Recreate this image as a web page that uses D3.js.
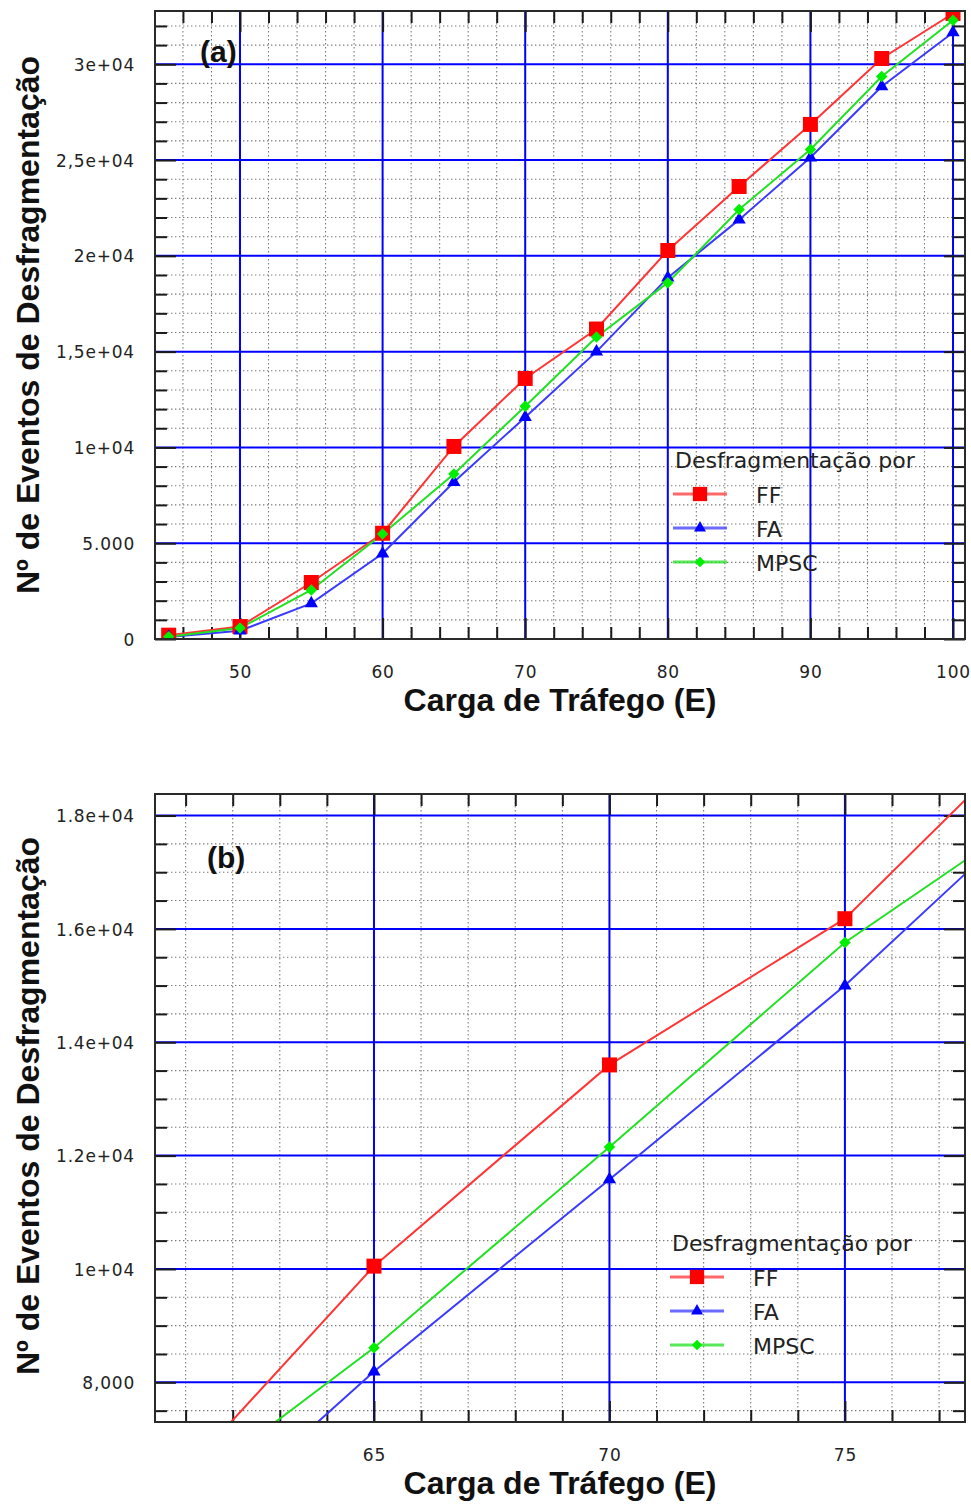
<!DOCTYPE html>
<html>
<head>
<meta charset="utf-8">
<script src="https://cdn.jsdelivr.net/npm/d3@7/dist/d3.min.js"></script>
<style>
  html, body { margin: 0; padding: 0; background: #ffffff; }
  svg { display: block; }
</style>
</head>
<body>
<svg id="chart" width="971" height="1504"></svg>
<script>
// Traffic load (Erlang) and defragmentation event counts per policy
const cargas = [45, 50, 55, 60, 65, 70, 75, 80, 85, 90, 95, 100];
const ffEventos   = [200, 650, 2950, 5520, 10050, 13600, 16180, 20280, 23620, 26860, 30300, 32650];
const faEventos   = [100, 430, 1860, 4460, 8190, 11580, 15000, 18860, 21890, 25130, 28840, 31660];
const mpscEventos = [120, 570, 2560, 5480, 8610, 12150, 15760, 18600, 22420, 25550, 29360, 32300];

const seriesNames = ["FF", "FA", "MPSC"];
const legendTitle = "Desfragmentação por";
const xTitle = "Carga de Tráfego (E)";
const yTitle = "Nº de Eventos de Desfragmentação";

// Tick values and their printed labels, panel (a)
const xTicksA = [50, 60, 70, 80, 90, 100];
const xTickLabelsA = ["50", "60", "70", "80", "90", "100"];
const yTicksA = [0, 5000, 10000, 15000, 20000, 25000, 30000];
const yTickLabelsA = ["0", "5.000", "1e+04", "1,5e+04", "2e+04", "2,5e+04", "3e+04"];

// Tick values and their printed labels, panel (b)
const xTicksB = [65, 70, 75];
const xTickLabelsB = ["65", "70", "75"];
const yTicksB = [8000, 10000, 12000, 14000, 16000, 18000];
const yTickLabelsB = ["8,000", "1e+04", "1.2e+04", "1.4e+04", "1.6e+04", "1.8e+04"];

const series = [
  { name: seriesNames[0], values: ffEventos,   line: "#ff3535", fill: "#ff0000", shape: "square" },
  { name: seriesNames[1], values: faEventos,   line: "#3a3aff", fill: "#0000ff", shape: "triangle" },
  { name: seriesNames[2], values: mpscEventos, line: "#22e022", fill: "#00ee00", shape: "diamond" }
];

const svg = d3.select("#chart");

function markerPath(shape, scale) {
  if (shape === "square") return d3.symbol(d3.symbolSquare, 225 * scale * scale)();
  if (shape === "triangle") return d3.symbol(d3.symbolTriangle, 76 * scale * scale)();
  return d3.symbol(d3.symbolSquare, 66 * scale * scale)();
}

function drawPanel(cfg) {
  const { left, top, right, bottom } = cfg.box;
  const x = d3.scaleLinear().domain(cfg.xDomain).range([left, right]);
  const y = d3.scaleLinear().domain(cfg.yDomain).range([bottom, top]);
  const g = svg.append("g");

  const clipId = "clip-" + cfg.id;
  g.append("clipPath").attr("id", clipId)
    .append("rect").attr("x", left).attr("y", top)
    .attr("width", right - left).attr("height", bottom - top);

  const xMinor = d3.range(cfg.xMinorStart, cfg.xDomain[1], cfg.xMinorStep)
    .filter(v => !cfg.xTicks.some(t => Math.abs(t - v) < 1e-9));
  const yMinor = d3.range(cfg.yMinorStart, cfg.yDomain[1], cfg.yMinorStep)
    .filter(v => !cfg.yTicks.some(t => Math.abs(t - v) < 1e-9));

  // dotted minor grid
  const minor = g.append("g").attr("stroke", "#7a7a7a").attr("stroke-width", 1.1)
    .attr("stroke-dasharray", "1.4,2.6");
  minor.selectAll(".vx").data(xMinor).join("line")
    .attr("x1", d => x(d)).attr("x2", d => x(d)).attr("y1", top).attr("y2", bottom);
  minor.selectAll(".hy").data(yMinor).join("line")
    .attr("x1", left).attr("x2", right).attr("y1", d => y(d)).attr("y2", d => y(d));

  // solid blue major grid
  const major = g.append("g").attr("stroke", "#0000ff").attr("stroke-width", 2);
  major.selectAll(".vx").data(cfg.xTicks).join("line")
    .attr("x1", d => x(d)).attr("x2", d => x(d)).attr("y1", top).attr("y2", bottom);
  major.selectAll(".hy").data(cfg.yTicks.filter(v => y(v) > top + 1 && y(v) < bottom - 1)).join("line")
    .attr("x1", left).attr("x2", right).attr("y1", d => y(d)).attr("y2", d => y(d));

  // inward tick marks on all four sides
  const tickG = g.append("g");
  function ticks(axisFn, scale, values, size, transform) {
    const a = tickG.append("g").attr("transform", transform)
      .call(axisFn(scale).tickValues(values).tickSize(-size).tickFormat(""));
    a.select(".domain").remove();
    a.selectAll(".tick line").attr("stroke", "#1a1a1a").attr("stroke-width", 2);
  }
  ticks(d3.axisBottom, x, xMinor, 12, `translate(0,${bottom})`);
  ticks(d3.axisBottom, x, cfg.xTicks, 21, `translate(0,${bottom})`);
  ticks(d3.axisTop, x, xMinor, 12, `translate(0,${top})`);
  ticks(d3.axisTop, x, cfg.xTicks, 21, `translate(0,${top})`);
  ticks(d3.axisLeft, y, yMinor, 12, `translate(${left},0)`);
  ticks(d3.axisLeft, y, cfg.yTicks, 21, `translate(${left},0)`);
  ticks(d3.axisRight, y, yMinor, 12, `translate(${right},0)`);
  ticks(d3.axisRight, y, cfg.yTicks, 21, `translate(${right},0)`);

  // data lines and markers
  const plot = g.append("g").attr("clip-path", `url(#${clipId})`);
  const line = d3.line().x((d, i) => x(cargas[i])).y(d => y(d));
  series.forEach(s => {
    plot.append("path").datum(s.values)
      .attr("fill", "none").attr("stroke", s.line).attr("stroke-width", 2)
      .attr("d", line);
  });
  series.forEach(s => {
    plot.selectAll(null).data(s.values).join("path")
      .attr("transform", (d, i) => `translate(${x(cargas[i])},${y(d)})` + (s.shape === "diamond" ? " rotate(45)" : ""))
      .attr("d", markerPath(s.shape, 1))
      .attr("fill", s.fill);
  });

  // frame
  g.append("rect").attr("x", left).attr("y", top)
    .attr("width", right - left).attr("height", bottom - top)
    .attr("fill", "none").attr("stroke", "#2a2a2a").attr("stroke-width", 2);

  // tick labels
  const xl = g.append("g").attr("transform", `translate(0,${bottom})`)
    .call(d3.axisBottom(x).tickValues(cfg.xTicks).tickSize(0)
      .tickFormat((d, i) => cfg.xTickLabels[i]));
  xl.select(".domain").remove();
  xl.selectAll("text").attr("y", 39).attr("dy", 0)
    .attr("font-family", "DejaVu Sans").attr("font-size", 17)
    .attr("letter-spacing", 0.8).attr("fill", "#222");

  const yl = g.append("g").attr("transform", `translate(${left},0)`)
    .call(d3.axisLeft(y).tickValues(cfg.yTicks).tickSize(0).tickPadding(20)
      .tickFormat((d, i) => cfg.yTickLabels[i]));
  yl.select(".domain").remove();
  yl.selectAll("text").attr("dy", "0.36em")
    .attr("font-family", "DejaVu Sans").attr("font-size", 17)
    .attr("letter-spacing", 0.8).attr("fill", "#222");

  // axis titles
  g.append("text").attr("x", (left + right) / 2).attr("y", bottom + 72)
    .attr("text-anchor", "middle").attr("font-family", "Liberation Sans, Arial, sans-serif")
    .attr("font-weight", "bold").attr("font-size", 32).attr("fill", "#111")
    .text(xTitle);
  g.append("text")
    .attr("transform", `translate(39,${(top + bottom) / 2 + cfg.yTitleShift}) rotate(-90)`)
    .attr("text-anchor", "middle").attr("font-family", "Liberation Sans, Arial, sans-serif")
    .attr("font-weight", "bold").attr("font-size", 32).attr("fill", "#111")
    .text(yTitle);

  // panel tag
  g.append("text").attr("x", cfg.tag.x).attr("y", cfg.tag.y)
    .attr("font-family", "Liberation Sans, Arial, sans-serif").attr("font-weight", "bold")
    .attr("font-size", 30).attr("fill", "#111").text(cfg.tag.text);

  // legend
  const lg = g.append("g").attr("transform", `translate(${cfg.legend.x},${cfg.legend.y})`);
  lg.append("text").attr("x", 2).attr("y", 0)
    .attr("font-family", "DejaVu Sans").attr("font-size", 22).attr("fill", "#222")
    .text(legendTitle);
  series.forEach((s, i) => {
    const ry = 26 + i * 34;
    lg.append("line").attr("x1", 0).attr("x2", 54).attr("y1", ry).attr("y2", ry)
      .attr("stroke", s.line).attr("stroke-opacity", 0.75).attr("stroke-width", 3);
    lg.append("path")
      .attr("transform", `translate(27,${ry})` + (s.shape === "diamond" ? " rotate(45)" : ""))
      .attr("d", markerPath(s.shape, s.shape === "square" ? 0.95 : 0.9))
      .attr("fill", s.fill);
    lg.append("text").attr("x", 83).attr("y", ry + 9)
      .attr("font-family", "DejaVu Sans").attr("font-size", 22).attr("fill", "#222")
      .text(s.name);
  });
}

drawPanel({
  id: "a",
  box: { left: 155, top: 11, right: 965, bottom: 639 },
  xDomain: [44.04, 100.84], yDomain: [0, 32780],
  xTicks: xTicksA, xTickLabels: xTickLabelsA,
  yTicks: yTicksA, yTickLabels: yTickLabelsA,
  xMinorStart: 46, xMinorStep: 2, yMinorStart: 1000, yMinorStep: 1000,
  yTitleShift: 0,
  tag: { x: 200, y: 62, text: "(a)" },
  legend: { x: 673, y: 468 }
});

drawPanel({
  id: "b",
  box: { left: 155, top: 794, right: 965, bottom: 1422 },
  xDomain: [60.35, 77.55], yDomain: [7300, 18380],
  xTicks: xTicksB, xTickLabels: xTickLabelsB,
  yTicks: yTicksB, yTickLabels: yTickLabelsB,
  xMinorStart: 61, xMinorStep: 1, yMinorStart: 7500, yMinorStep: 500,
  yTitleShift: -2,
  tag: { x: 207, y: 868, text: "(b)" },
  legend: { x: 670, y: 1251 }
});
</script>
</body>
</html>
